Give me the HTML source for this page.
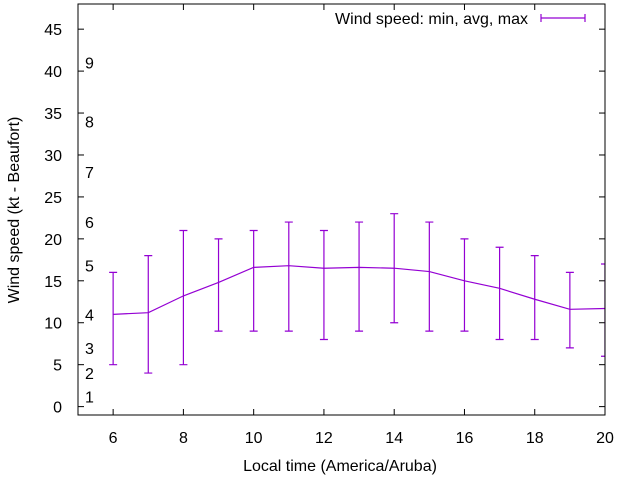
<!DOCTYPE html>
<html><head><meta charset="utf-8"><style>
body{margin:0;background:#fff}
svg text{font-family:"Liberation Sans",sans-serif;font-size:16px;fill:#000}
</style></head><body>
<svg id="c" width="640" height="480" xmlns="http://www.w3.org/2000/svg"></svg>
<script>
const hours=[6,7,8,9,10,11,12,13,14,15,16,17,18,19,20];
const avgSpeed=[11,11.2,13.2,14.8,16.6,16.8,16.5,16.6,16.5,16.1,15,14.1,12.8,11.6,11.7];
const minSpeed=[5,4,5,9,9,9,8,9,10,9,9,8,8,7,6];
const maxSpeed=[16,18,21,20,21,22,21,22,23,22,20,19,18,16,17];
const yTicks=[0,5,10,15,20,25,30,35,40,45];
const xTicks=[6,8,10,12,14,16,18,20];
const beaufort=[[1,1.2],[2,4],[3,7],[4,11],[5,16.8],[6,22],[7,28],[8,34],[9,41]];
const L=78,R=605,T=4,B=415,X0=5,X1=20,Y0=-1,Y1=48;
const sx=v=>L+(v-X0)/(X1-X0)*(R-L), sy=v=>B-(v-Y0)/(Y1-Y0)*(B-T);
const svg=document.getElementById('c'),NS='http://www.w3.org/2000/svg';
function mk(t,a,p){const e=document.createElementNS(NS,t);for(const k in a)e.setAttribute(k,a[k]);(p||svg).appendChild(e);return e;}
const defs=mk('defs',{});const cp=mk('clipPath',{id:'pc'},defs);mk('rect',{x:L,y:T,width:R-L,height:B-T},cp);
yTicks.forEach(v=>{const y=sy(v);
 let t=mk('line',{x1:L,x2:L+6,y1:y,y2:y,stroke:'#000'});
 t=mk('line',{x1:R-6,x2:R,y1:y,y2:y,stroke:'#000'});
 const s=mk('text',{x:L-16,y:y+6,'text-anchor':'end'});s.textContent=v;});
xTicks.forEach(v=>{const x=sx(v);
 let t=mk('line',{x1:x,x2:x,y1:B,y2:B-6,stroke:'#000'});
 t=mk('line',{x1:x,x2:x,y1:T,y2:T+6,stroke:'#000'});
 const s=mk('text',{x:x,y:B+28,'text-anchor':'middle'});s.textContent=v;});
beaufort.forEach(b=>{const s=mk('text',{x:85,y:sy(b[1])+6});s.textContent=b[0];});
const g=mk('g',{'clip-path':'url(#pc)',stroke:'#9400d3','stroke-width':1.2,fill:'none'});
const ln=mk('polyline',{points:hours.map((h,i)=>sx(h)+','+sy(avgSpeed[i])).join(' ')},g);
hours.forEach((h,i)=>{const x=sx(h),a=sy(minSpeed[i]),b=sy(maxSpeed[i]);
 const p=mk('path',{d:`M${x},${a}V${b}M${x-4},${a}H${x+4}M${x-4},${b}H${x+4}`},g);});
const fr=mk('rect',{x:L,y:T,width:R-L,height:B-T,fill:'none',stroke:'#000'});
let s=mk('text',{x:528,y:24,'text-anchor':'end'});s.textContent='Wind speed: min, avg, max';
const lg=mk('path',{d:'M541,18H585M541,14V22M585,14V22',stroke:'#9400d3','stroke-width':1.2});
s=mk('text',{x:340,y:471,'text-anchor':'middle'});s.textContent='Local time (America/Aruba)';
s=mk('text',{x:0,y:0,'text-anchor':'middle',transform:'translate(19,210) rotate(-90)'});s.textContent='Wind speed (kt - Beaufort)';
</script>
</body></html>
